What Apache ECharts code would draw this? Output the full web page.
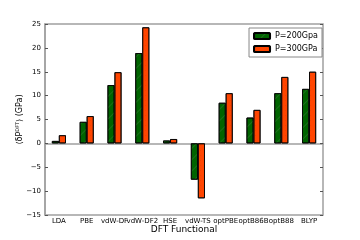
<!DOCTYPE html>
<html><head><meta charset="utf-8">
<script src="https://cdn.jsdelivr.net/npm/echarts@6/dist/echarts.min.js"></script>
<style>html,body{margin:0;padding:0;background:#fff}#c{width:360px;height:240px}</style>
</head><body><div id="c"></div>
<script>
const categories = ['LDA','PBE','vdW-DF','vdW-DF2','HSE','vdW-TS','optPBE','optB86B','optB88','BLYP'];
const p200 = [0.5, 4.5, 12.2, 18.9, 0.6, -7.6, 8.5, 5.4, 10.5, 11.4];
const p300 = [1.7, 5.7, 14.9, 24.3, 0.9, -11.5, 10.5, 7.0, 13.9, 15.0];
const yTicks = [-15,-10,-5,0,5,10,15,20,25];

const chart = echarts.init(document.getElementById('c'), null, {renderer:'canvas'});
const frame = '#a0a0a0';
const font = 'DejaVu Sans';
chart.setOption({
  animation:false,
  textStyle:{fontFamily:font},
  grid:{left:45,right:37,top:24,bottom:25,show:true,borderColor:frame,borderWidth:1.5,backgroundColor:'transparent',outerBoundsMode:'none',containLabel:false},
  legend:{
    right:38, top:28, orient:'vertical', itemWidth:16, itemHeight:6, itemGap:5,
    padding:[4,4,4,4], borderColor:'#888', borderWidth:1, backgroundColor:'#fff',
    textStyle:{fontSize:8, color:'#000', fontFamily:font},
    data:['P=200Gpa','P=300GPa']
  },
  xAxis:[{
    type:'category', data:categories, position:'bottom',
    axisLine:{lineStyle:{color:frame,width:1.5}},
    axisTick:{inside:true,alignWithLabel:true,length:3,lineStyle:{color:'#555'}},
    axisLabel:{interval:0,fontSize:7,color:'#000',margin:3,hideOverlap:false,fontFamily:font},
    name:'DFT Functional', nameLocation:'middle', nameGap:10, nameMoveOverlap:false,
    nameTextStyle:{fontSize:9,color:'#000',fontFamily:font}
  },{
    type:'category', data:categories, position:'top',
    axisLine:{show:false},
    axisTick:{inside:true,alignWithLabel:true,length:3,lineStyle:{color:'#555'}},
    axisLabel:{show:false}
  }],
  yAxis:[{
    type:'value', min:-15, max:25, interval:5,
    axisLine:{show:true,lineStyle:{color:frame,width:1.5}},
    axisTick:{show:true,inside:true,length:3,lineStyle:{color:'#555'}},
    splitLine:{show:false},
    axisLabel:{fontSize:7,color:'#000',margin:4,fontFamily:font,formatter:v=>yTicks.includes(v)?(v<0?'\u2212'+(-v):String(v)):''},
    name:'{a|\u27E8\u03B4P}{s|DFT}{a|\u27E9 (GPa)}', nameLocation:'middle', nameGap:21, nameRotate:90, nameMoveOverlap:false,
    nameTextStyle:{rich:{a:{fontSize:8,color:'#000',fontFamily:font},s:{fontSize:5,color:'#000',fontFamily:font,verticalAlign:'top',padding:[0,0,4,0]}}}
  },{
    type:'value', min:-15, max:25, interval:5, position:'right',
    axisLine:{show:false},
    axisTick:{show:true,inside:true,length:3,lineStyle:{color:'#555'}},
    splitLine:{show:false}, axisLabel:{show:false}
  }],
  series:[{
    name:'P=200Gpa', type:'bar', data:p200, xAxisIndex:0, yAxisIndex:0,
    barWidth:7, barGap:'0%',
    itemStyle:{color:'#006400',borderColor:'#000',borderWidth:0.8,
      decal:{symbol:'rect',symbolSize:1,dashArrayX:[1,0],dashArrayY:[1,7],rotation:-Math.PI/4,color:'rgba(80,130,80,0.35)'}}
  },{
    name:'P=300GPa', type:'bar', data:p300, xAxisIndex:0, yAxisIndex:0,
    barWidth:7, barGap:'0%',
    itemStyle:{color:'#FF4500',borderColor:'#000',borderWidth:0.8,
      decal:{symbol:'circle',symbolSize:0.6,dashArrayX:[[1,4]],dashArrayY:[1,4],color:'rgba(90,30,0,0.4)'}}
  }]
});
</script></body></html>
